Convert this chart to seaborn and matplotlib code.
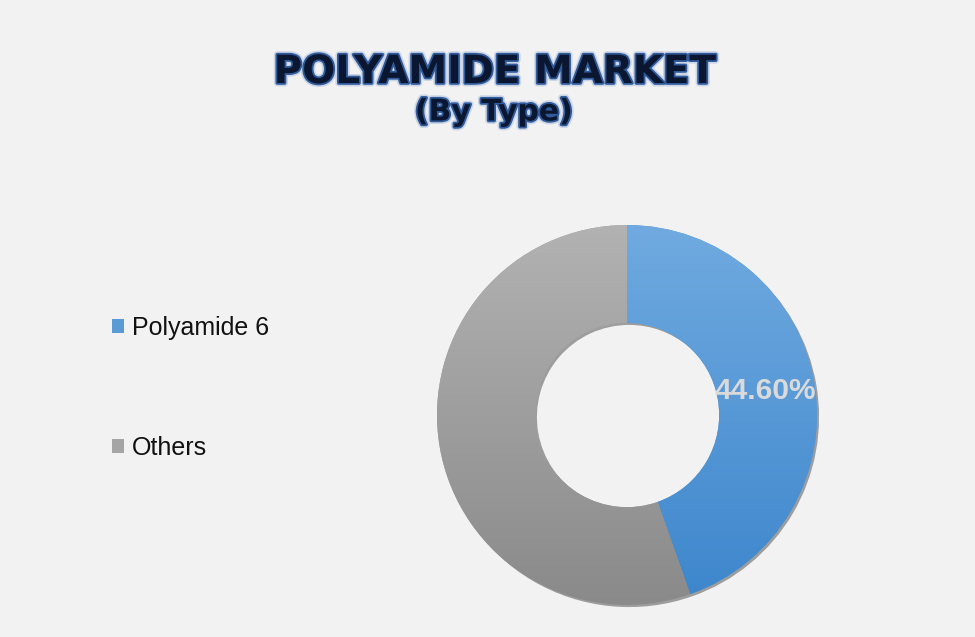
import numpy as np
import matplotlib
matplotlib.use("Agg")
import matplotlib.pyplot as plt
import matplotlib.patheffects as pe
from matplotlib.patches import Patch
from matplotlib.colors import LinearSegmentedColormap
import seaborn as sns

# ---- data ----
categories = ["Polyamide 6", "Others"]
shares = [44.6, 55.4]
label_text = ["44.60%", ""]
title = "POLYAMIDE MARKET"
subtitle = "(By Type)"

sns.set_theme(style="white")
plt.rcParams['font.family'] = ['Liberation Sans', 'DejaVu Sans']

bg = "#F2F2F2"
colors = ["#5B9BD5", "#A5A5A5"]
grad = [("#70AAE0", "#3D86CC"), ("#B2B2B2", "#8A8A8A")]

fig = plt.figure(figsize=(9.75, 6.37), dpi=100, facecolor=bg)
cx, cy, R = 627, 415, 190
ax = fig.add_axes([(cx - R) / 975, (637 - cy - R) / 637, 2 * R / 975, 2 * R / 637])
ax.set_facecolor(bg)

wedges, _ = ax.pie(shares, colors=colors, startangle=90, counterclock=False,
                   radius=1.0, wedgeprops=dict(width=0.515, linewidth=0))
for w in wedges:
    w.set_path_effects([pe.SimplePatchShadow(offset=(1.5, -1.5), shadow_rgbFace="#000000", alpha=0.35),
                        pe.Normal()])

yy = np.linspace(0, 1, 256).reshape(-1, 1)
for w, (top, bot) in zip(wedges, grad):
    cmap = LinearSegmentedColormap.from_list("g", [bot, top])
    im = ax.imshow(yy, cmap=cmap, extent=(-1, 1, -1, 1), origin="lower",
                   aspect="auto", zorder=w.get_zorder() + 0.1)
    im.set_clip_path(w)

ax.set_xlim(-1, 1)
ax.set_ylim(-1, 1)
ax.set_aspect("equal")
ax.axis("off")

# data label
mid = 90 - (shares[0] / 2) / 100 * 360
r_lab = 0.74
ax.text(r_lab * np.cos(np.radians(mid)), r_lab * np.sin(np.radians(mid)), label_text[0],
        ha="center", va="center", fontsize=21.5, fontweight="bold", color="#DADADA", zorder=10)

# title
title_fx = [pe.Stroke(linewidth=5, foreground="#9DB3D6", alpha=0.45),
            pe.Stroke(linewidth=2.6, foreground="#2F5A9C"), pe.Normal()]
fig.text(495 / 975, 1 - 72 / 637, title, ha="center", va="center", fontsize=28,
         fontweight="bold", color="#0B1730", family="DejaVu Sans", path_effects=title_fx)
fig.text(494 / 975, 1 - 112 / 637, subtitle, ha="center", va="center", fontsize=21.5,
         fontweight="bold", color="#0B1730", family="DejaVu Sans", path_effects=title_fx)

# legend
handles = [Patch(facecolor=c, edgecolor="none") for c in colors]
leg = fig.legend(handles, categories, loc="upper left", bbox_to_anchor=(89 / 975, 1 - 293 / 637),
                 frameon=False, fontsize=18, handlelength=0.5, handleheight=0.5,
                 handletextpad=0.3, labelspacing=3.85, labelcolor="#111111")

fig.savefig("out.png", dpi=100, facecolor=bg)
